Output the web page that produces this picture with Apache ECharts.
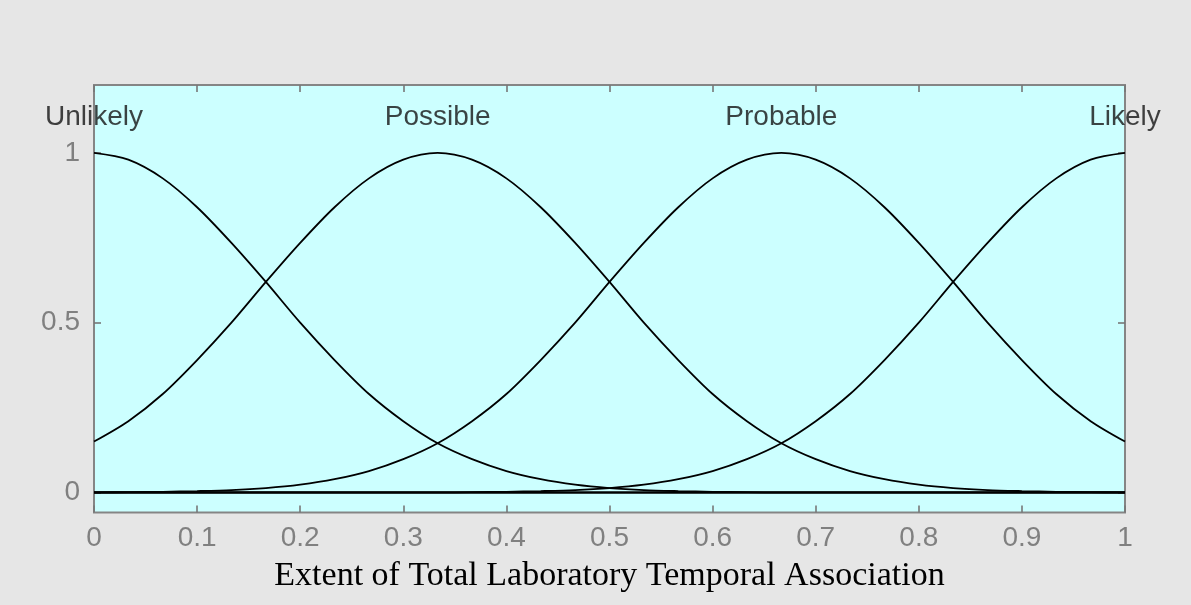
<!DOCTYPE html>
<html>
<head>
<meta charset="utf-8">
<script src="https://cdn.jsdelivr.net/npm/echarts@6/dist/echarts.min.js"></script>
<style>
html,body{margin:0;padding:0;background:#e6e6e6;}
#chart{width:1191px;height:605px;}
</style>
</head>
<body>
<div id="chart"></div>
<script>
// x sample positions (shared)
const xs = [0, 0.0333, 0.0667, 0.1, 0.1333, 0.1667, 0.2, 0.2333, 0.2667, 0.3, 0.3333, 0.3667, 0.4, 0.4333, 0.4667, 0.5, 0.5333, 0.5667, 0.6, 0.6333, 0.6667, 0.7, 0.7333, 0.7667, 0.8, 0.8333, 0.8667, 0.9, 0.9333, 0.9667, 1];
// membership values
const unlikely = [1, 0.98, 0.925, 0.84, 0.735, 0.62, 0.50, 0.39, 0.29, 0.21, 0.145, 0.098, 0.063, 0.039, 0.023, 0.013, 0.007, 0.004, 0.002, 0.001, 0, 0, 0, 0, 0, 0, 0, 0, 0, 0, 0];
const possible = [0.15, 0.21, 0.29, 0.39, 0.50, 0.62, 0.735, 0.84, 0.925, 0.98, 1, 0.98, 0.925, 0.84, 0.735, 0.62, 0.50, 0.39, 0.29, 0.21, 0.145, 0.098, 0.063, 0.039, 0.023, 0.013, 0.007, 0.004, 0.002, 0.001, 0];
const probable = [0, 0.001, 0.002, 0.004, 0.007, 0.013, 0.023, 0.039, 0.063, 0.098, 0.145, 0.21, 0.29, 0.39, 0.50, 0.62, 0.735, 0.84, 0.925, 0.98, 1, 0.98, 0.925, 0.84, 0.735, 0.62, 0.50, 0.39, 0.29, 0.21, 0.15];
const likely = [0, 0, 0, 0, 0, 0, 0, 0, 0, 0, 0, 0.001, 0.002, 0.004, 0.007, 0.013, 0.023, 0.039, 0.063, 0.098, 0.145, 0.21, 0.29, 0.39, 0.50, 0.62, 0.735, 0.84, 0.925, 0.98, 1];
// MF names and their label positions
const mfNames = ['Unlikely', 'Possible', 'Probable', 'Likely'];
const mfLabelX = [0, 0.3333, 0.6667, 1];
const mfLabelY = 1.105;
const yTicks = [0, 0.5, 1];
const xTitle = 'Extent of Total Laboratory Temporal Association';

const curves = [unlikely, possible, probable, likely];
const sans = 'Liberation Sans, Arial, sans-serif';
const gray = '#808080';

const chart = echarts.init(document.getElementById('chart'), null, {renderer: 'canvas'});

const series = curves.map((ys, k) => ({
  type: 'line',
  name: mfNames[k],
  data: xs.map((x, i) => [x, ys[i]]),
  showSymbol: false,
  smooth: 0.3,
  lineStyle: {color: '#000', width: 1.8},
  silent: true,
  z: 3
}));
series[0].markLine = {
  silent: true,
  symbol: 'none',
  label: {show: false},
  lineStyle: {color: '#000', width: 2.5, type: 'solid'},
  data: [{yAxis: 0}]
};
series.push({
  type: 'scatter',
  data: mfLabelX.map(x => [x, mfLabelY]),
  symbolSize: 1,
  itemStyle: {color: 'rgba(0,0,0,0)'},
  clip: false,
  silent: true,
  label: {
    show: true,
    position: 'inside',
    formatter: p => mfNames[p.dataIndex],
    color: '#141414',
    fontSize: 28,
    fontFamily: sans
  },
  z: 5
});

const tickStyle = {color: '#777777', width: 1.6};

chart.setOption({
  backgroundColor: '#e6e6e6',
  animation: false,
  grid: {
    left: 94, top: 85, width: 1031, height: 427.5,
    show: true,
    backgroundColor: '#ccffff',
    borderColor: '#858585',
    borderWidth: 2
  },
  xAxis: [{
    type: 'value', min: 0, max: 1, interval: 0.1,
    position: 'bottom',
    axisLine: {show: false, onZero: false},
    splitLine: {show: false},
    axisTick: {show: true, inside: true, length: 7, lineStyle: tickStyle},
    axisLabel: {color: gray, fontSize: 28, fontFamily: sans, margin: 12, showMinLabel: true, showMaxLabel: true},
    name: xTitle,
    nameLocation: 'middle',
    nameGap: 47,
    nameTextStyle: {color: '#000', fontSize: 34, fontFamily: 'Liberation Serif, Times New Roman, serif'}
  }, {
    type: 'value', min: 0, max: 1, interval: 0.1,
    position: 'top',
    axisLine: {show: false, onZero: false},
    splitLine: {show: false},
    axisTick: {show: true, inside: true, length: 7, lineStyle: tickStyle},
    axisLabel: {show: false}
  }],
  yAxis: [{
    type: 'value', min: -0.059, max: 1.2,
    position: 'left',
    axisLine: {show: false, onZero: false},
    splitLine: {show: false},
    axisTick: {show: true, inside: true, length: 7, customValues: yTicks, lineStyle: tickStyle},
    axisLabel: {color: gray, fontSize: 28, fontFamily: sans, margin: 14, customValues: yTicks}
  }, {
    type: 'value', min: -0.059, max: 1.2,
    position: 'right',
    axisLine: {show: false, onZero: false},
    splitLine: {show: false},
    axisTick: {show: true, inside: true, length: 7, customValues: yTicks, lineStyle: tickStyle},
    axisLabel: {show: false, customValues: yTicks}
  }],
  series: series
});
</script>
</body>
</html>
